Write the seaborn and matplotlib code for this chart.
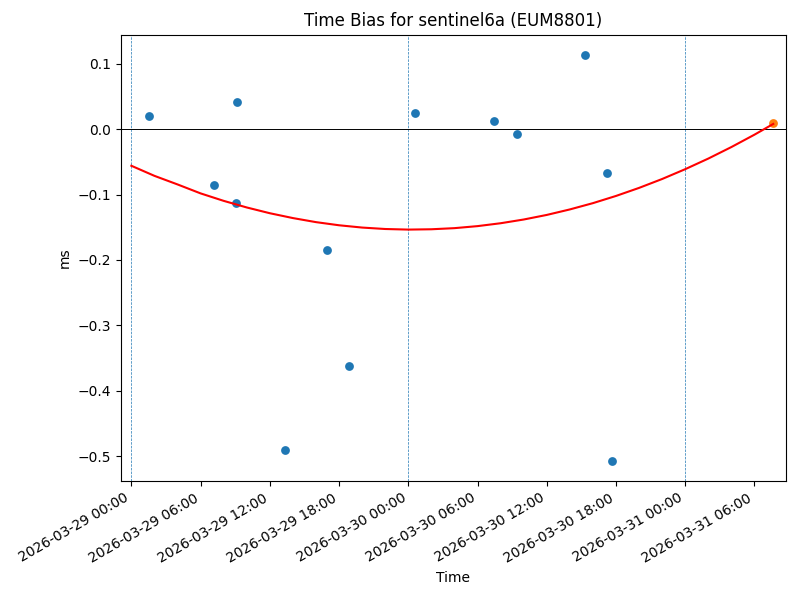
import pandas as pd
import numpy as np
import matplotlib
matplotlib.use("Agg")
import matplotlib.pyplot as plt
import matplotlib.dates as mdates
import seaborn as sns

# measured time bias points (ms)
obs_times = [
    "2026-03-29 01:34", "2026-03-29 07:11", "2026-03-29 09:11", "2026-03-29 09:06",
    "2026-03-29 13:18", "2026-03-29 16:58", "2026-03-29 18:52", "2026-03-30 00:37",
    "2026-03-30 07:27", "2026-03-30 09:25", "2026-03-30 15:20", "2026-03-30 17:15",
    "2026-03-30 17:41",
]
obs_bias = [0.020, -0.085, 0.041, -0.113, -0.490, -0.185, -0.362, 0.024,
            0.012, -0.008, 0.113, -0.067, -0.507]

# latest value (orange)
last_time = ["2026-03-31 07:38"]
last_bias = [0.009]

# fitted curve (hours after 2026-03-29 00:00)
fit_start = "2026-03-29 00:00"
fit_hours = [0, 2, 4, 6, 8, 10, 12, 14, 16, 18, 20, 22, 24, 26, 28, 30,
             32, 34, 36, 38, 40, 42, 44, 46, 48, 50, 52, 54, 55.63]
fit_bias = [-0.0561, -0.0715, -0.0846, -0.0983, -0.1097, -0.1198, -0.1286,
            -0.1360, -0.1422, -0.1470, -0.1505, -0.1527, -0.1536, -0.1531,
            -0.1514, -0.1483, -0.1439, -0.1382, -0.1312, -0.1228, -0.1132,
            -0.1022, -0.0899, -0.0763, -0.0613, -0.0451, -0.0275, -0.0086,
            0.0078]

midnights = ["2026-03-29", "2026-03-30", "2026-03-31"]


def main():
    obs = pd.DataFrame({"time": pd.to_datetime(obs_times), "bias": obs_bias})
    last = pd.DataFrame({"time": pd.to_datetime(last_time), "bias": last_bias})
    fit = pd.DataFrame({
        "time": pd.Timestamp(fit_start) + pd.to_timedelta(fit_hours, unit="h"),
        "bias": fit_bias,
    })

    fig, ax = plt.subplots(figsize=(8, 6), dpi=100)

    # midnight markers and zero line
    for d in midnights:
        ax.axvline(pd.Timestamp(d), color="C0", linestyle="--", linewidth=0.5)
    ax.axhline(0, color="black", linewidth=0.7)

    sns.scatterplot(data=obs, x="time", y="bias", color="C0", s=40, linewidth=0, ax=ax)
    sns.lineplot(data=fit, x="time", y="bias", color="red", linewidth=1.5, sort=False, ax=ax)
    sns.scatterplot(data=last, x="time", y="bias", color="C1", s=40, linewidth=0, ax=ax)

    ax.set_xlim(pd.Timestamp("2026-03-28 23:05"), pd.Timestamp("2026-03-31 08:42"))
    ax.xaxis.set_major_locator(mdates.HourLocator(byhour=range(0, 24, 6)))
    ax.xaxis.set_major_formatter(mdates.DateFormatter("%Y-%m-%d %H:%M"))
    plt.setp(ax.get_xticklabels(), rotation=30, ha="right")

    ax.set_title("Time Bias for sentinel6a (EUM8801)")
    ax.set_xlabel("Time")
    ax.set_ylabel("ms")

    fig.subplots_adjust(left=0.151, right=0.982, top=0.942, bottom=0.198)
    fig.savefig("out.png")


if __name__ == "__main__":
    main()
